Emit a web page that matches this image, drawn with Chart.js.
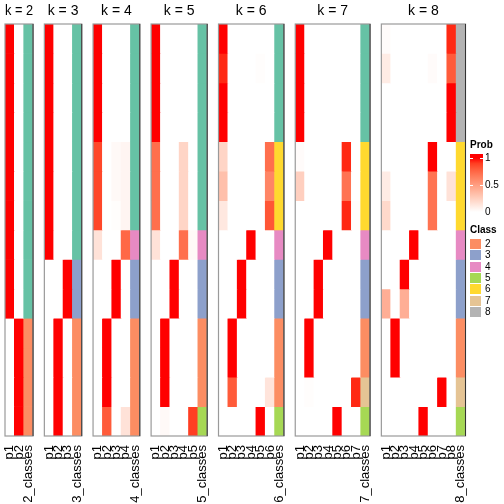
<!DOCTYPE html>
<html>
<head>
<meta charset="utf-8">
<script src="https://cdn.jsdelivr.net/npm/chart.js@4/dist/chart.umd.min.js"></script>
<style>
  html, body { margin: 0; padding: 0; background: #fff; }
  body { width: 504px; height: 504px; position: relative; overflow: hidden;
         font-family: "Liberation Sans", Arial, sans-serif; }
  canvas { position: absolute; top: 0; }
  .lg { position: absolute; font-size: 10px; color: #000; line-height: 10px; }
  .lg.b { font-weight: bold; }
  .sw { position: absolute; width: 11px; height: 10px; }
  .tk { position: absolute; height: 1px; width: 3px; background: #fff; }
</style>
</head>
<body>
<div id="wrap"></div>
<script>
// rows are samples (top to bottom), columns p1..pk
const probK2 = [
  [1,0],[1,0],[1,0],[1,0],[1,0],[1,0],[1,0],[1,0],[1,0],[1,0],
  [0,1],[0,1],[0,1],[0,1]
];
const classK2 = [1,1,1,1,1,1,1,1,1,1,2,2,2,2];

const probK3 = [
  [1,0,0],[1,0,0],[1,0,0],[1,0,0],[1,0,0],[1,0,0],[1,0,0],[1,0,0],
  [0,0,1],[0,0,1],
  [0,1,0],[0,1,0],[0,1,0],[0,1,0]
];
const classK3 = [1,1,1,1,1,1,1,1,3,3,2,2,2,2];

const probK4 = [
  [1,0,0,0],[1,0,0,0],[1,0,0,0],[1,0,0,0],
  [0.87,0,0.03,0.05],[0.87,0,0.03,0.05],[0.87,0,0.01,0.05],
  [0.15,0,0,0.75],
  [0,0,1,0],[0,0,1,0],
  [0,1,0,0],[0,1,0,0],[0,1,0,0],[0,0.8,0,0.15]
];
const classK4 = [1,1,1,1,1,1,1,4,3,3,2,2,2,2];

const probK5 = [
  [1,0,0,0,0],[1,0,0,0,0],[1,0,0,0,0],[1,0,0,0,0],
  [0.72,0,0,0.22,0],[0.72,0,0,0.22,0],[0.72,0,0,0.22,0],
  [0.15,0,0,0.72,0.03],
  [0,0,1,0,0],[0,0,1,0,0],
  [0,1,0,0,0],[0,1,0,0,0],[0,1,0,0,0],
  [0,0.03,0,0,0.9]
];
const classK5 = [1,1,1,1,1,1,1,4,3,3,2,2,2,5];

const probK6 = [
  [1,0,0,0,0,0],[0.95,0,0,0,0.01,0],[1,0,0,0,0,0],[1,0,0,0,0,0],
  [0.22,0,0,0,0,0.72],[0.33,0,0,0,0,0.62],[0.12,0,0,0,0,0.82],
  [0,0,0,1,0,0],
  [0,0,1,0,0,0],[0,0,1,0,0,0],
  [0,1,0,0,0,0],[0,1,0,0,0,0],[0,0.8,0,0,0,0.14],
  [0,0,0,0,1,0]
];
const classK6 = [1,1,1,1,6,6,6,4,3,3,2,2,2,5];

const probK7 = [
  [1,0,0,0,0,0,0],[1,0,0,0,0,0,0],[1,0,0,0,0,0,0],[1,0,0,0,0,0,0],
  [0.02,0,0,0,0,0.95,0],[0.25,0,0,0,0,0.7,0],[0,0,0,0,0,0.95,0.01],
  [0,0,0,1,0,0,0],
  [0,0,1,0,0,0,0],[0,0,1,0,0,0,0],
  [0,1,0,0,0,0,0],[0,1,0,0,0,0,0],
  [0,0.01,0,0,0,0,0.95],
  [0,0,0,0,1,0,0]
];
const classK7 = [1,1,1,1,6,6,6,4,3,3,2,2,7,5];

const probK8 = [
  [0.02,0,0,0,0,0,0,0.95],[0.1,0,0,0,0,0.02,0,0.8],[0,0,0,0,0,0,0,1],[0,0,0,0,0,0,0,1],
  [0,0,0,0,0,1,0,0],[0.1,0,0,0,0,0.7,0,0.15],[0.2,0,0,0,0,0.7,0,0],
  [0,0,0,1,0,0,0,0],
  [0,0,1,0,0,0,0,0],[0.42,0,0.42,0,0,0,0,0],
  [0,1,0,0,0,0,0,0],[0,1,0,0,0,0,0,0],
  [0,0,0,0,0,0,1,0],
  [0,0,0,0,1,0,0,0]
];
const classK8 = [8,8,8,8,6,6,6,4,3,3,2,2,7,5];

const legendClasses = [2,3,4,5,6,7,8];
const probTicks = [1, 0.5, 0];

const classColors = {1:'#66C2A5',2:'#FC8D62',3:'#8DA0CB',4:'#E78AC3',
                     5:'#A6D854',6:'#FFD92F',7:'#E5C494',8:'#B3B3B3'};

// white -> red in LAB space
function toLin(c){ c/=255; return c<=0.04045 ? c/12.92 : Math.pow((c+0.055)/1.055,2.4); }
function fromLin(c){ c = c<=0.0031308 ? 12.92*c : 1.055*Math.pow(c,1/2.4)-0.055; return Math.round(Math.max(0,Math.min(1,c))*255); }
function rgb2lab(rgb){
  const [r,g,b] = rgb.map(toLin);
  const X=(0.4124*r+0.3576*g+0.1805*b)/0.95047, Y=0.2126*r+0.7152*g+0.0722*b, Z=(0.0193*r+0.1192*g+0.9505*b)/1.08883;
  const f=t=> t>0.008856 ? Math.cbrt(t) : 7.787*t+16/116;
  const fx=f(X), fy=f(Y), fz=f(Z);
  return [116*fy-16, 500*(fx-fy), 200*(fy-fz)];
}
function lab2rgb(lab){
  const fy=(lab[0]+16)/116, fx=fy+lab[1]/500, fz=fy-lab[2]/200;
  const fi=t=> t*t*t>0.008856 ? t*t*t : (t-16/116)/7.787;
  const X=fi(fx)*0.95047, Y=fi(fy), Z=fi(fz)*1.08883;
  return [fromLin(3.2406*X-1.5372*Y-0.4986*Z), fromLin(-0.9689*X+1.8758*Y+0.0415*Z), fromLin(0.0557*X-0.2040*Y+1.0570*Z)];
}
const labW = rgb2lab([255,255,255]), labR = rgb2lab([255,0,0]);
function probColor(v){
  const c = lab2rgb(labW.map((w,i)=> w + (labR[i]-w)*v));
  return 'rgb(' + c.join(',') + ')';
}

const FONT = '"Liberation Sans", Arial, sans-serif';
const colW = 9.35, gap = 11.3, firstLeft = 5, pad = 10;
const panels = [
  {k:2, probs:probK2, classes:classK2},
  {k:3, probs:probK3, classes:classK3},
  {k:4, probs:probK4, classes:classK4},
  {k:5, probs:probK5, classes:classK5},
  {k:6, probs:probK6, classes:classK6},
  {k:7, probs:probK7, classes:classK7},
  {k:8, probs:probK8, classes:classK8}
];

const framePlugin = {
  id: 'frame',
  afterDatasetsDraw(chart) {
    const a = chart.chartArea, ctx = chart.ctx;
    ctx.save();
    ctx.strokeStyle = '#9a9a9a';
    ctx.lineWidth = 1.2;
    ctx.strokeRect(a.left, a.top, a.right - a.left, a.bottom - a.top);
    ctx.strokeStyle = '#333';
    ctx.lineWidth = 1;
    ctx.beginPath();
    ctx.moveTo(a.right, a.top); ctx.lineTo(a.right, a.bottom);
    ctx.stroke();
    ctx.restore();
  }
};

const wrap = document.getElementById('wrap');
let left = firstLeft;
panels.forEach(p => {
  const labels = [];
  for (let i = 1; i <= p.k; i++) labels.push('p' + i);
  labels.push(p.k + '_classes');
  const w = labels.length * colW;
  const cLeft = Math.floor(left) - pad;
  const cW = Math.ceil(left + w) + pad - cLeft;
  const padL = left - cLeft, padR = cW - padL - w;

  const cv = document.createElement('canvas');
  cv.width = cW; cv.height = 504;
  cv.style.left = cLeft + 'px';
  cv.style.width = cW + 'px'; cv.style.height = '504px';
  wrap.appendChild(cv);

  const datasets = p.probs.map((row, r) => ({
    data: labels.map(() => 1),
    backgroundColor: row.map(probColor).concat([classColors[p.classes[r]]]),
    borderWidth: 0,
    barPercentage: 1,
    categoryPercentage: 1
  }));

  new Chart(cv, {
    type: 'bar',
    data: { labels: labels, datasets: datasets },
    options: {
      responsive: false,
      animation: false,
      devicePixelRatio: 1,
      layout: { padding: { left: padL, right: padR, top: 0, bottom: 0 } },
      plugins: {
        legend: { display: false },
        tooltip: { enabled: false },
        title: {
          display: true, text: 'k = ' + p.k, color: '#000',
          font: { family: FONT, size: 14, weight: 'normal', lineHeight: 1.2 },
          padding: { top: 3, bottom: 4.2 }
        }
      },
      scales: {
        x: {
          stacked: true,
          grid: { display: false },
          border: { display: false },
          ticks: { autoSkip: false, maxRotation: 90, minRotation: 90, padding: 1,
                   color: '#000', font: { family: FONT, size: 13 } },
          afterFit(s) { s.height = 68; s.paddingLeft = 0; s.paddingRight = 0; }
        },
        y: { stacked: true, display: false, min: 0, max: p.probs.length, reverse: true }
      }
    },
    plugins: [framePlugin]
  });
  left += w + gap;
});

// legends
function addDiv(cls, css, text) {
  const d = document.createElement('div');
  d.className = cls;
  Object.assign(d.style, css);
  if (text !== undefined) d.textContent = text;
  document.body.appendChild(d);
  return d;
}
const gTop = 158, gBot = 212;
addDiv('lg b', {left:'470px', top:'140px'}, 'Prob');
const stops = [];
for (let i = 0; i <= 10; i++) stops.push(probColor(1 - i/10) + ' ' + (4 + i*5.4) + 'px');
addDiv('sw', {left:'470px', top:'154px', width:'13px', height:'62px',
  background:'linear-gradient(to bottom, rgb(255,0,0) 0px, ' + stops.join(', ') + ', #fff 62px)'});
probTicks.forEach(v => {
  const y = gBot - (gBot - gTop) * v;
  if (v > 0) {
    addDiv('tk', {left:'470px', top:(y-0.5)+'px'});
    addDiv('tk', {left:'480px', top:(y-0.5)+'px'});
  }
  addDiv('lg', {left:'485px', top:(y-5)+'px'}, String(v));
});
addDiv('lg b', {left:'470px', top:'225px'}, 'Class');
legendClasses.forEach((c, i) => {
  const y = 239 + i * 11.3;
  addDiv('sw', {left:'470px', top:y+'px', background:classColors[c]});
  addDiv('lg', {left:'485px', top:y+'px'}, String(c));
});
</script>
</body>
</html>
